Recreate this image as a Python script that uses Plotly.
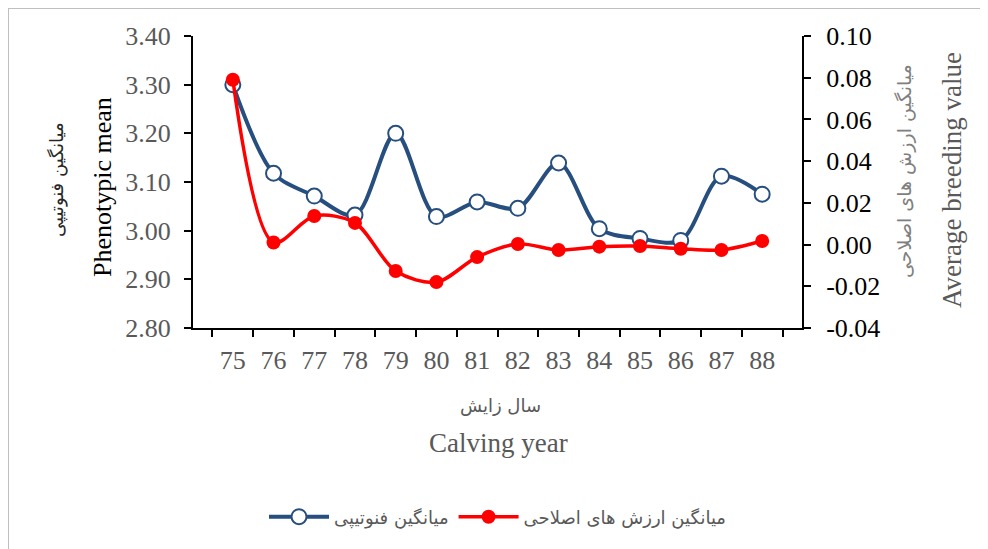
import plotly.graph_objects as go

years = ["75", "76", "77", "78", "79", "80", "81", "82", "83", "84", "85", "86", "87", "88"]
phenotypic_mean = [3.30, 3.118, 3.071, 3.032, 3.200, 3.029, 3.059, 3.046, 3.139, 3.004, 2.984, 2.980, 3.112, 3.075]
breeding_value = [0.079, 0.001, 0.0137, 0.0104, -0.0127, -0.018, -0.006, 0.0003, -0.0026, -0.001, -0.0007, -0.002, -0.0026, 0.0017]

left_ticks = [2.80, 2.90, 3.00, 3.10, 3.20, 3.30, 3.40]
left_ticktext = ["2.80", "2.90", "3.00", "3.10", "3.20", "3.30", "3.40"]
right_ticks = [-0.04, -0.02, 0.00, 0.02, 0.04, 0.06, 0.08, 0.10]
right_ticktext = ["-0.04", "-0.02", "0.00", "0.02", "0.04", "0.06", "0.08", "0.10"]

name_pheno = "میانگین فنوتیپی"
name_bv = "میانگین ارزش های اصلاحی"

serif = "Liberation Serif, Times New Roman, serif"
sans = "DejaVu Sans, Noto Sans, sans-serif"

W, H = 980, 541
L, R, T, B = 185, 186, 28, 221
PW = W - L - R
PH = H - T - B

fig = go.Figure()
fig.add_trace(go.Scatter(
    x=years, y=phenotypic_mean, name=name_pheno, mode="lines+markers",
    line=dict(color="#264E7E", width=4, shape="spline", smoothing=0.9),
    marker=dict(symbol="circle", size=15, color="white", line=dict(color="#264E7E", width=2)),
    yaxis="y",
))
fig.add_trace(go.Scatter(
    x=years, y=breeding_value, name=name_bv, mode="lines+markers",
    line=dict(color="#FF0000", width=3.5, shape="spline", smoothing=0.9),
    marker=dict(symbol="circle", size=14, color="#FF0000"),
    yaxis="y2",
))

fig.update_layout(
    width=W, height=H,
    margin=dict(l=L, r=R, t=T, b=B),
    plot_bgcolor="white", paper_bgcolor="white",
    showlegend=True,
    legend=dict(orientation="h", x=0.5, xanchor="center", y=-(517 - 328) / PH, yanchor="middle",
                font=dict(family=sans, size=18, color="#595959"), traceorder="normal",
                itemwidth=60),
    xaxis=dict(type="category", showline=True, linecolor="black", linewidth=2,
               ticks="outside", ticklen=7, tickwidth=2, tickcolor="black", tickson="boundaries",
               showgrid=False, zeroline=False, ticklabelstandoff=8,
               tickfont=dict(family=serif, size=26, color="#595959")),
    yaxis=dict(range=[2.80, 3.40], tickvals=left_ticks, ticktext=left_ticktext,
               showline=True, linecolor="black", linewidth=2,
               ticks="outside", ticklen=7, tickwidth=2, tickcolor="black",
               showgrid=False, zeroline=False, ticklabelstandoff=8,
               tickfont=dict(family=serif, size=26, color="#595959")),
    yaxis2=dict(range=[-0.04, 0.10], tickvals=right_ticks, ticktext=right_ticktext,
                overlaying="y", side="right",
                showline=True, linecolor="black", linewidth=2,
                ticks="outside", ticklen=7, tickwidth=2, tickcolor="black",
                showgrid=False, zeroline=False, ticklabelstandoff=10,
                tickfont=dict(family=serif, size=26, color="black")),
)

def px(xi):
    return (xi - 8 - L) / PW

def py(yi):
    return (H - B + 8 - yi) / PH

annos = [
    dict(text=name_pheno, x=px(57), y=py(180), textangle=-90, font=dict(family=sans, size=18, color="#262626")),
    dict(text="Phenotypic mean", x=px(102), y=py(187), textangle=-90, font=dict(family=serif, size=26, color="black")),
    dict(text=name_bv, x=px(904), y=py(171), textangle=-90, font=dict(family=sans, size=19, color="#7F7F7F")),
    dict(text="Average breeding value", x=px(952), y=py(180), textangle=-90, font=dict(family=serif, size=27, color="#595959")),
    dict(text="سال زایش", x=px(500), y=py(405), textangle=0, font=dict(family=sans, size=18, color="#595959")),
    dict(text="Calving year", x=px(498), y=py(443), textangle=0, font=dict(family=serif, size=27, color="#595959")),
]
for a in annos:
    fig.add_annotation(xref="paper", yref="paper", showarrow=False, xanchor="center", yanchor="middle", **a)

fig.add_shape(type="rect", xref="paper", yref="paper", x0=px(8), x1=px(1010), y0=py(570), y1=py(8),
              line=dict(color="#BFBFBF", width=2), fillcolor="rgba(0,0,0,0)", layer="below")

fig.write_html("out.html")
